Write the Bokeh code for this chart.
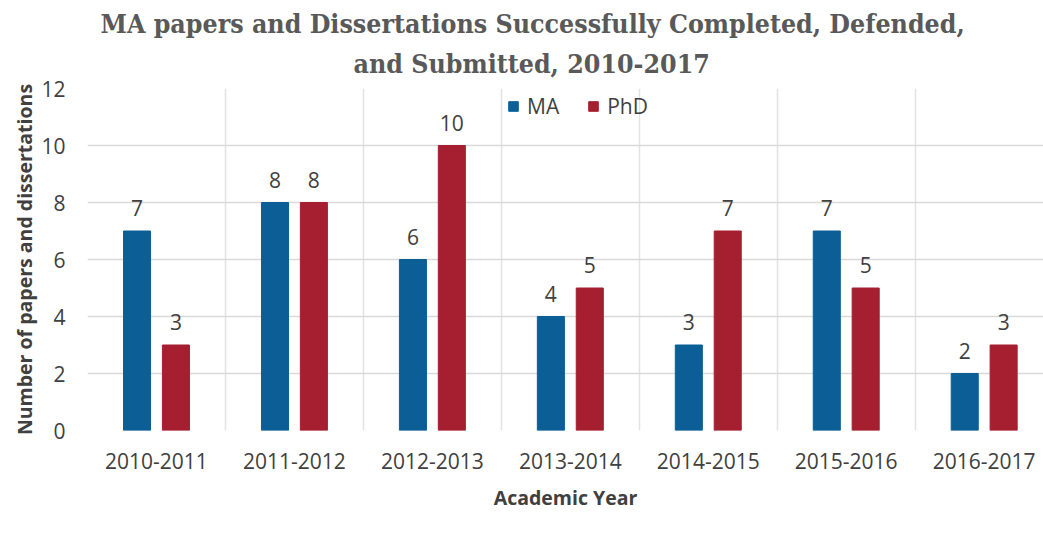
from bokeh.plotting import figure
from bokeh.models import (ColumnDataSource, Range1d, FixedTicker, Title, Legend,
                          LegendItem, LabelSet)
from bokeh.core.properties import value
from bokeh.embed import file_html
from bokeh.resources import INLINE

years = ["2010-2011", "2011-2012", "2012-2013", "2013-2014", "2014-2015", "2015-2016", "2016-2017"]
ma = [7, 8, 6, 4, 3, 7, 2]
phd = [3, 8, 10, 5, 7, 5, 3]
y_ticks = [0, 2, 4, 6, 8, 10, 12]

MA_COLOR = "#0B5F96"
PHD_COLOR = "#A51F30"
TEXT = "#404040"

centers = [i + 0.5 for i in range(len(years))]
off = 0.141
bw = 0.196

src_ma = ColumnDataSource(dict(x=[c - off for c in centers], top=ma, lab=[str(v) for v in ma]))
src_phd = ColumnDataSource(dict(x=[c + off for c in centers], top=phd, lab=[str(v) for v in phd]))

p = figure(frame_width=956, frame_height=342, output_backend="svg", toolbar_location=None,
           x_range=Range1d(0, 6.93), y_range=Range1d(0, 12),
           min_border_left=87, min_border_right=0, min_border_top=88, min_border_bottom=114)
p.outline_line_color = None
p.background_fill_color = "white"

r_ma = p.vbar(x="x", top="top", width=bw, source=src_ma, color=MA_COLOR)
r_phd = p.vbar(x="x", top="top", width=bw, source=src_phd, color=PHD_COLOR)

for src in (src_ma, src_phd):
    p.add_layout(LabelSet(x="x", y="top", text="lab", source=src, y_offset=15,
                          text_align="center", text_baseline="bottom",
                          text_font=value("Open Sans"), text_font_size="21px",
                          text_color=TEXT))

# axes
p.xaxis.ticker = FixedTicker(ticks=centers)
p.xaxis.major_label_overrides = {c: y for c, y in zip(centers, years)}
p.xaxis.axis_line_color = None
p.xaxis.major_tick_line_color = None
p.xaxis.minor_tick_line_color = None
p.xaxis.major_tick_out = 0
p.xaxis.major_tick_in = 0
p.xaxis.major_label_text_font = "Open Sans"
p.xaxis.major_label_text_font_size = "21px"
p.xaxis.major_label_text_color = TEXT
p.xaxis.major_label_standoff = 22
p.xaxis.axis_label = "Academic Year"
p.xaxis.axis_label_text_font = "Open Sans"
p.xaxis.axis_label_text_font_style = "bold"
p.xaxis.axis_label_text_font_size = "19.5px"
p.xaxis.axis_label_text_color = TEXT
p.xaxis.axis_label_standoff = 12

p.yaxis.ticker = FixedTicker(ticks=y_ticks)
p.yaxis.axis_line_color = None
p.yaxis.major_tick_line_color = None
p.yaxis.minor_tick_line_color = None
p.yaxis.major_tick_out = 0
p.yaxis.major_tick_in = 0
p.yaxis.major_label_text_font = "Open Sans"
p.yaxis.major_label_text_font_size = "21px"
p.yaxis.major_label_text_color = TEXT
p.yaxis.major_label_standoff = 22
p.yaxis.axis_label = "Number of papers and dissertations"
p.yaxis.axis_label_text_font = "Open Sans"
p.yaxis.axis_label_text_font_style = "bold"
p.yaxis.axis_label_text_font_size = "19.5px"
p.yaxis.axis_label_text_color = TEXT
p.yaxis.axis_label_standoff = 0

# grids
p.ygrid.grid_line_color = "#D9D9D9"
p.ygrid.grid_line_width = 1.5
p.xgrid.ticker = FixedTicker(ticks=list(range(1, len(years))))
p.xgrid.grid_line_color = "#E3E3E3"
p.xgrid.grid_line_width = 1.5

# title as two stacked lines (first added sits nearest the plot)
title_lines = ["MA papers and Dissertations Successfully Completed, Defended,",
               "and Submitted, 2010-2017"]
title_offsets = [13, 266]
title_standoffs = [-6, 20]
for t, o, s in reversed(list(zip(title_lines, title_offsets, title_standoffs))):
    p.add_layout(Title(text=t, align="left", offset=o, text_font="DejaVu Serif Condensed",
                       text_font_style="bold", text_font_size="26.5px",
                       text_color="#595959", standoff=s), "above")

# legend kept inside the plot frame (top centre) so that it stays visible
legend = Legend(items=[LegendItem(label="MA", renderers=[r_ma]),
                       LegendItem(label="PhD", renderers=[r_phd])],
                orientation="horizontal", location=(420, 310),
                label_text_font="Open Sans", label_text_font_size="21px",
                label_text_color=TEXT, glyph_width=12, glyph_height=12,
                spacing=28, padding=0, margin=0, border_line_color=None,
                label_standoff=8, background_fill_alpha=0)
p.add_layout(legend)

open("out.html", "w").write(file_html(p, INLINE))
